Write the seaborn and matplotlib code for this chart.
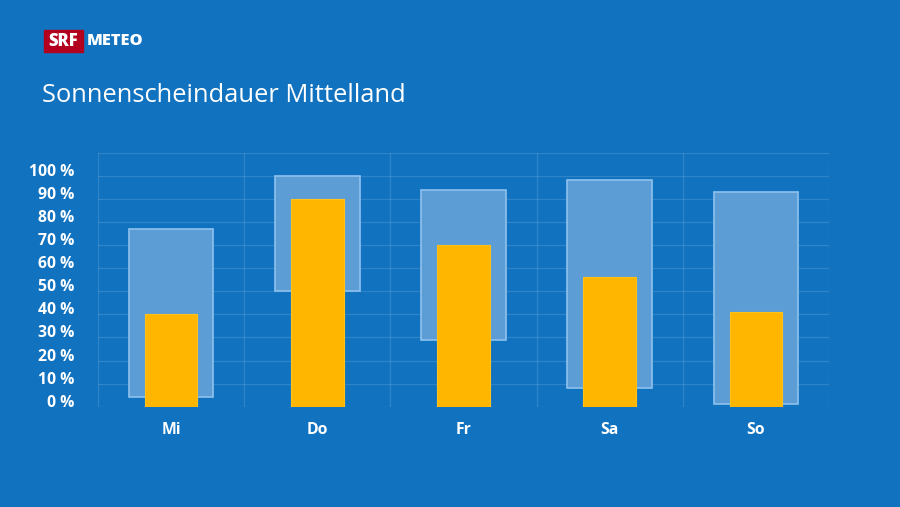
import matplotlib
matplotlib.use("Agg")
import matplotlib.pyplot as plt
import matplotlib.patches as mpatches
import pandas as pd
import seaborn as sns

# Sunshine duration per day (%), with expected range
days = ["Mi", "Do", "Fr", "Sa", "So"]
sunshine = [40, 90, 70, 56, 41]
range_low = [4, 50, 29, 8, 1]
range_high = [77, 100, 94, 98, 93]
yticks = list(range(0, 101, 10))

bg = "#1172bf"
df = pd.DataFrame({"day": days, "sun": sunshine,
                   "low": range_low,
                   "span": [h - l for h, l in zip(range_high, range_low)]})

sns.set_style("white")
plt.rcParams["font.family"] = ["Open Sans", "DejaVu Sans"]

fig = plt.figure(figsize=(9, 5.07), dpi=100, facecolor=bg)
ax = fig.add_axes([98 / 900, 1 - 406.7 / 507, (829 - 98) / 900, (406.7 - 152.7) / 507])
ax.set_facecolor(bg)

# range boxes
sns.barplot(data=df, x="day", y="span", bottom=df["low"], width=0.58,
            color="#5c9dd5", edgecolor="#8fc2ee", linewidth=1.2,
            saturation=1, ax=ax, zorder=2)
# sunshine bars
sns.barplot(data=df, x="day", y="sun", width=0.36, color="#ffb600",
            edgecolor="#ffc21a", linewidth=0.8, saturation=1, ax=ax, zorder=3)

ax.set_xlim(-0.5, len(days) - 0.5)
ax.set_ylim(0, 110)
for y in range(0, 111, 10):
    ax.axhline(y, color="white", alpha=0.13, lw=0.9, zorder=1)
for i in range(len(days) + 1):
    ax.axvline(i - 0.5, color="white", alpha=0.13, lw=0.9, zorder=1)

for s in ax.spines.values():
    s.set_visible(False)
ax.set_yticks(yticks)
ax.set_yticklabels([f"{v} %" for v in yticks], va="baseline")
ax.tick_params(axis="y", length=0, pad=17, labelsize=11.3, labelcolor="white")
ax.tick_params(axis="x", length=0, pad=11, labelsize=11.3, labelcolor="white")
for lab in ax.get_yticklabels() + ax.get_xticklabels():
    lab.set_fontweight("bold")
ax.set_xlabel("")
ax.set_ylabel("")

# header
fig.text(42 / 900, 1 - 95 / 507, "Sonnenscheindauer Mittelland", color="white",
         fontsize=18.4, va="center", ha="left")
fig.patches.append(mpatches.Rectangle((44 / 900, 1 - 52 / 507), 39 / 900, 22 / 507,
                                      transform=fig.transFigure, color="#b3001e"))
fig.text(63.5 / 900, 1 - 41 / 507, "SRF", color="white", fontsize=12,
         fontweight="heavy", ha="center", va="center")
fig.text(87 / 900, 1 - 41 / 507, "METEO", color="white", fontsize=11.8,
         fontweight="heavy", ha="left", va="center")

fig.savefig("out.png", dpi=100, facecolor=bg)
